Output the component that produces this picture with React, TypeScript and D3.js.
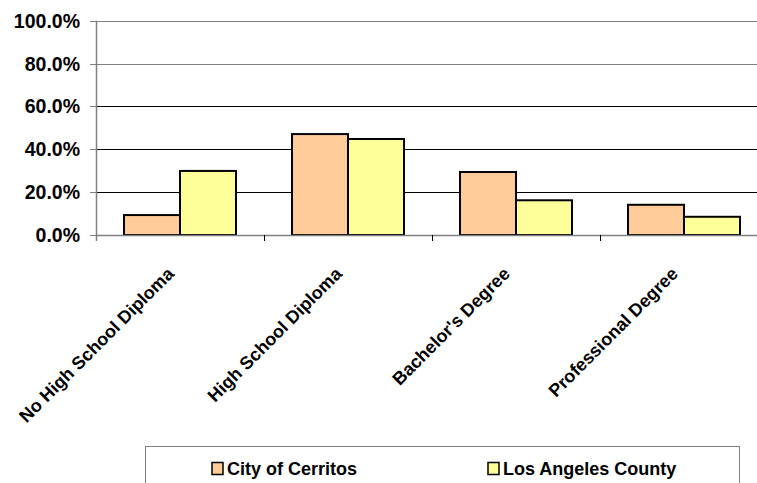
import React from "react";
import * as d3 from "d3";

const categories = [
  "No High School Diploma",
  "High School Diploma",
  "Bachelor's Degree",
  "Professional Degree",
];
const seriesNames = ["City of Cerritos", "Los Angeles County"];
const cerritos = [9.3, 47.1, 29.4, 14.1];
const laCounty = [29.9, 44.8, 16.2, 8.5];
const yTicks = [0, 20, 40, 60, 80, 100];
const colors = ["#FFCC99", "#FFFF99"];

const W = 757;
const H = 483;
const FONT = "'Liberation Sans', Arial, sans-serif";

export default function App() {
  const plot = { left: 96, right: 768, top: 20.7, bottom: 235 };
  const x = d3
    .scaleBand<string>()
    .domain(categories)
    .range([plot.left, plot.right])
    .paddingInner(0)
    .paddingOuter(0);
  const inner = d3
    .scaleBand<number>()
    .domain([0, 1])
    .range([0, x.bandwidth()])
    .paddingInner(0)
    .paddingOuter(0.5);
  const y = d3.scaleLinear().domain([0, 100]).range([plot.bottom, plot.top]);
  const series = [cerritos, laCounty];

  return (
    <svg
      width={W}
      height={H}
      style={{ position: "absolute", left: 0, top: 0, background: "#fff" }}
      fontFamily={FONT}
      fontWeight="bold"
    >
      {/* gridlines */}
      {yTicks.slice(1).map((t) => (
        <line
          key={"g" + t}
          x1={plot.left}
          x2={plot.right}
          y1={Math.round(y(t)) + 0.5}
          y2={Math.round(y(t)) + 0.5}
          stroke={t >= 80 ? "#808080" : "#000"}
          strokeWidth={1}
        />
      ))}
      {/* y tick labels and marks */}
      {yTicks.map((t) => (
        <g key={"t" + t}>
          <line
            x1={plot.left - 6}
            x2={plot.left}
            y1={Math.round(y(t)) + 0.5}
            y2={Math.round(y(t)) + 0.5}
            stroke="#808080"
          />
          <text
            x={80}
            y={y(t)}
            dy="0.36em"
            textAnchor="end"
            fontSize={19.5}
            fill="#000"
          >
            {d3.format(".1f")(t) + "%"}
          </text>
        </g>
      ))}
      {/* bars */}
      {categories.map((c, i) =>
        series.map((s, k) => (
          <rect
            key={c + k}
            x={(x(c) as number) + (inner(k) as number)}
            y={y(s[i])}
            width={inner.bandwidth()}
            height={y(0) - y(s[i])}
            fill={colors[k]}
            stroke="#000"
            strokeWidth={2}
          />
        ))
      )}
      {/* axes */}
      <line
        x1={plot.left + 0.5}
        x2={plot.left + 0.5}
        y1={plot.top}
        y2={plot.bottom + 6}
        stroke="#808080"
        strokeWidth={1.5}
      />
      <line
        x1={plot.left}
        x2={plot.right}
        y1={Math.round(plot.bottom) + 0.5}
        y2={Math.round(plot.bottom) + 0.5}
        stroke="#808080"
        strokeWidth={1.5}
      />
      {categories.slice(1).map((c) => (
        <line
          key={"xt" + c}
          x1={(x(c) as number) + 0.5}
          x2={(x(c) as number) + 0.5}
          y1={plot.bottom}
          y2={plot.bottom + 6}
          stroke="#000"
        />
      ))}
      {/* category labels */}
      {categories.map((c) => {
        const cx = (x(c) as number) + x.bandwidth() / 2 - 5;
        const cy = 275;
        return (
          <text
            key={"l" + c}
            x={cx}
            y={cy}
            textAnchor="end"
            fontSize={18}
            transform={`rotate(-45 ${cx} ${cy})`}
            fill="#000"
          >
            {c}
          </text>
        );
      })}
      {/* legend */}
      <rect
        x={145.5}
        y={446.5}
        width={594}
        height={60}
        fill="#fff"
        stroke="#808080"
        strokeWidth={1}
      />
      {seriesNames.map((n, k) => {
        const lx = k === 0 ? 212 : 488;
        return (
          <g key={"lg" + n}>
            <rect
              x={lx}
              y={462.5}
              width={11}
              height={12}
              fill={colors[k]}
              stroke="#000"
              strokeWidth={1.5}
            />
            <text x={lx + 15} y={475} fontSize={18} fill="#000">
              {n}
            </text>
          </g>
        );
      })}
    </svg>
  );
}
